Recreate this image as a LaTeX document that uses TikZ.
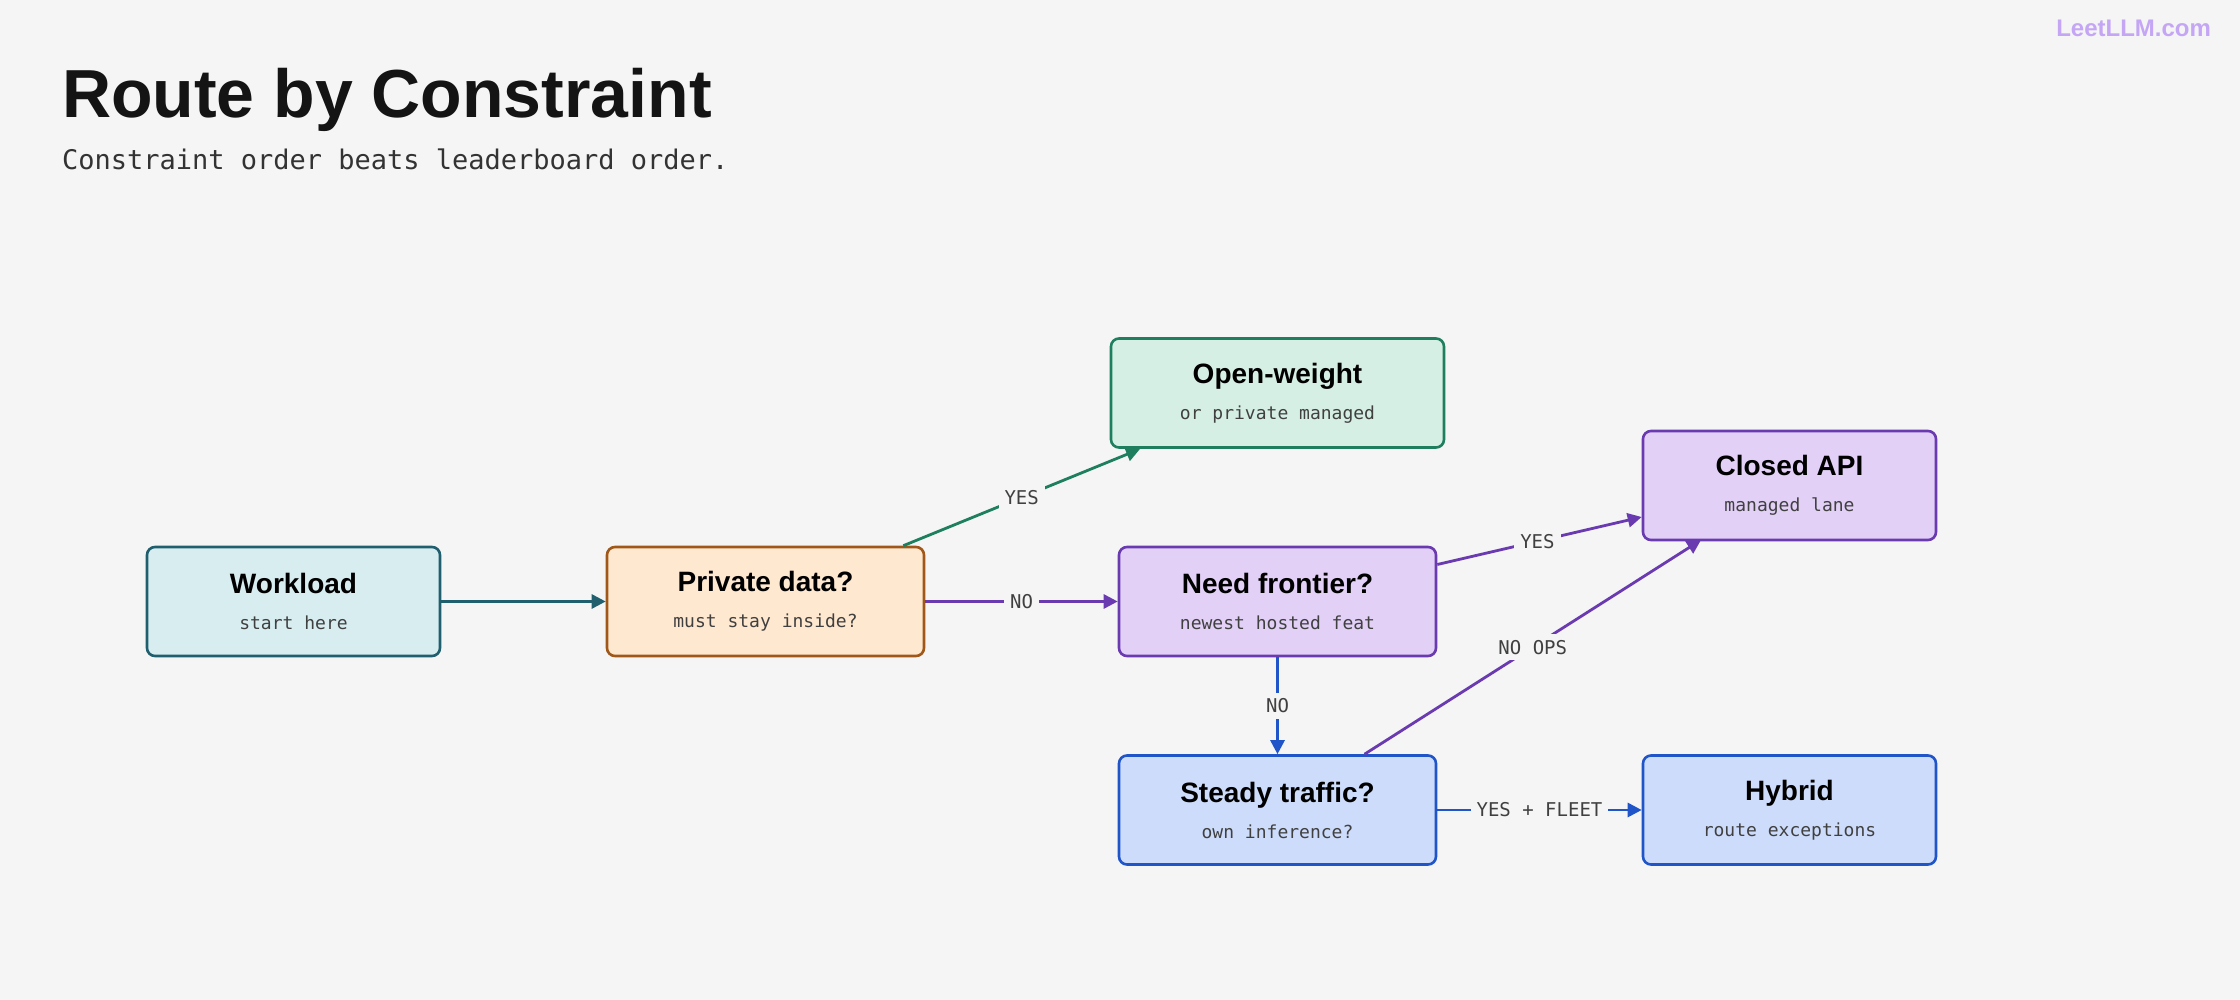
\documentclass[tikz,border=0pt]{standalone}
\usepackage{fontspec}
\setmainfont{Liberation Sans}
\setmonofont{DejaVu Sans Mono}
\usetikzlibrary{arrows.meta}
\definecolor{bg}{HTML}{F5F5F5}
\definecolor{tealD}{HTML}{1F5F6E}\definecolor{tealL}{HTML}{D7EDF0}
\definecolor{orD}{HTML}{A0581A}\definecolor{orL}{HTML}{FFE8D0}
\definecolor{grD}{HTML}{1E7F5E}\definecolor{grL}{HTML}{D6EFE5}
\definecolor{puD}{HTML}{6A3BB0}\definecolor{puL}{HTML}{E2D0F7}
\definecolor{blD}{HTML}{1F55C8}\definecolor{blL}{HTML}{CDDCFA}
\definecolor{lav}{HTML}{C4A6F5}
\begin{document}
\begin{tikzpicture}[x=0.5pt,y=-0.5pt,
 box/.style={rounded corners=4pt,line width=1.3pt,minimum width=#1*0.5pt,minimum height=54.5pt,inner sep=0pt,align=center},
 lbl/.style={fill=bg,font=\ttfamily\fontsize{9.5}{11}\selectfont,text=black!75,inner sep=3pt},
 con/.style={line width=1.4pt,-{Triangle[length=7pt,width=7pt]}}]
\useasboundingbox[fill=bg] (0,0) rectangle (2240,1000);
\node[anchor=base west,font=\bfseries\fontsize{34}{40}\selectfont,text=black!92] (title) at (55,118) {Route by Constraint};
\node[anchor=base west,font=\ttfamily\fontsize{13.5}{16}\selectfont,text=black!80] (sub) at (55,170) {Constraint order beats leaderboard order.};
\node[anchor=base east,font=\bfseries\fontsize{12}{14}\selectfont,text=lav] (logo) at (2218,37) {LeetLLM.com};
\newcommand{\bx}[2]{{\fontsize{14}{16}\selectfont\bfseries #1}\\[6pt]{\ttfamily\fontsize{9}{11}\selectfont\color{black!75}#2}}
\node[box=293,draw=tealD,fill=tealL] (wl) at (293.5,601.5) {\bx{Workload}{start here}};
\node[box=317,draw=orD,fill=orL] (pd) at (765.5,601.5) {\bx{Private data?}{must stay inside?}};
\node[box=333,draw=grD,fill=grL] (ow) at (1277.5,393) {\bx{Open-weight}{or private managed}};
\node[box=317,draw=puD,fill=puL] (nf) at (1277.5,601.5) {\bx{Need frontier?}{newest hosted feat}};
\node[box=293,draw=puD,fill=puL] (ca) at (1789.5,485.5) {\bx{Closed API}{managed lane}};
\node[box=317,draw=blD,fill=blL] (st) at (1277.5,810) {\bx{Steady traffic?}{own inference?}};
\node[box=293,draw=blD,fill=blL] (hy) at (1789.5,810) {\bx{Hybrid}{route exceptions}};
\draw[con,tealD] (wl) -- (pd);
\draw[con,grD] (pd.north east)++(-22,0) coordinate (a1) (a1) -- node[lbl,pos=0.5]{YES} (1140,449);
\draw[con,puD] (pd) -- node[lbl]{NO} (nf);
\draw[con,puD] (nf.east)++(0,-37) coordinate (a2) (a2) -- node[lbl,pos=0.49]{YES} (ca.west|-0,517);
\draw[con,blD] (nf) -- node[lbl]{NO} (st);
\draw[con,puD] (st.north)++(87,0) coordinate (a3) (a3) -- node[lbl,pos=0.5]{NO OPS} (1701,540);
\draw[con,blD] (st) -- node[lbl]{YES + FLEET} (hy);
\end{tikzpicture}
\end{document}
